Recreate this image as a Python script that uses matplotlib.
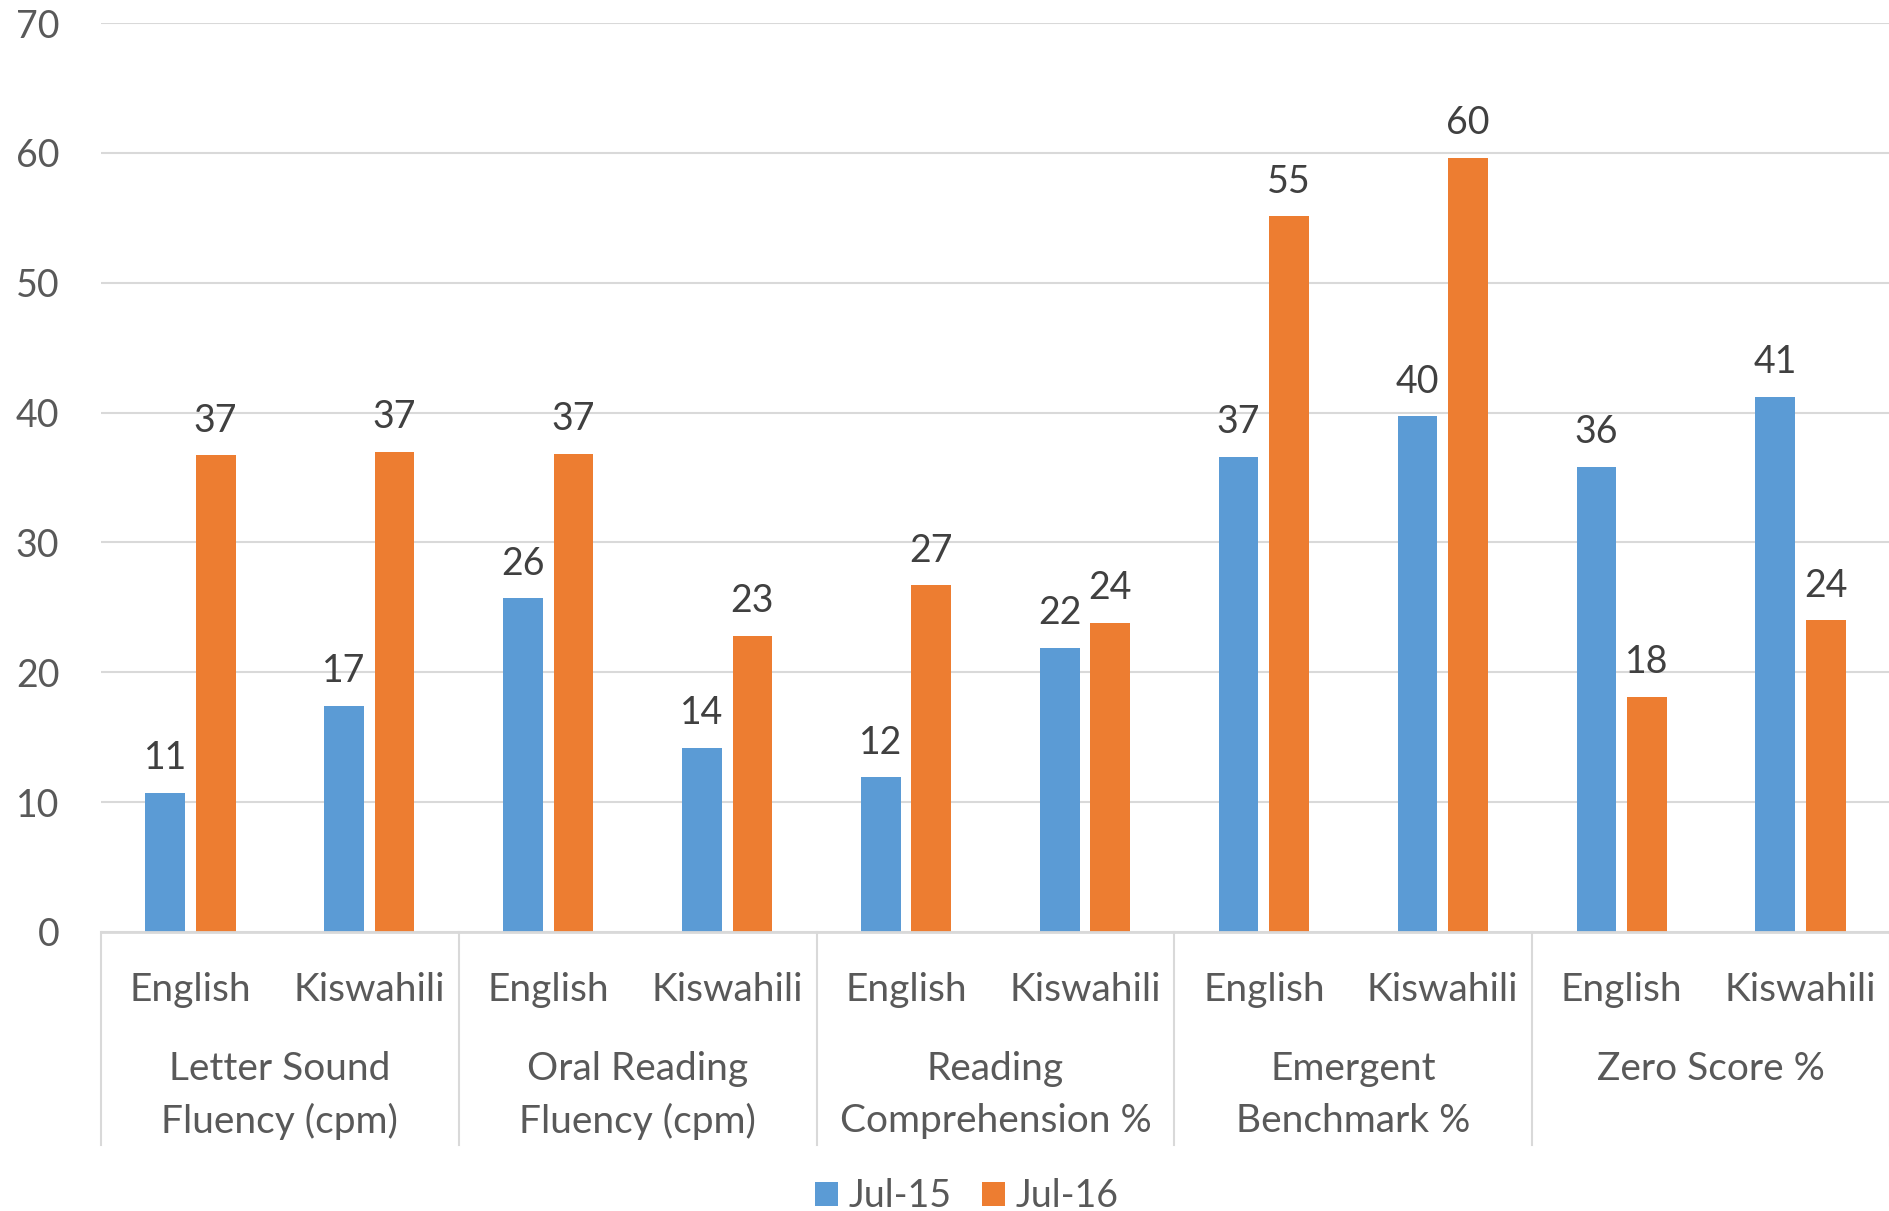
import matplotlib
matplotlib.use("Agg")
import matplotlib.pyplot as plt
import numpy as np
from matplotlib.lines import Line2D

plt.rcParams['font.family'] = ['Lato', 'DejaVu Sans']

groups = ["Letter Sound\nFluency (cpm)", "Oral Reading\nFluency (cpm)",
          "Reading\nComprehension %", "Emergent\nBenchmark %", "Zero Score %"]
languages = ["English", "Kiswahili"]
series_names = ["Jul-15", "Jul-16"]
jul15 = [10.7, 17.4, 25.7, 14.2, 11.9, 21.9, 36.6, 39.7, 35.8, 41.2]
jul16 = [36.7, 37.0, 36.8, 22.8, 26.7, 23.8, 55.1, 59.6, 18.1, 24.0]
yticks = [0, 10, 20, 30, 40, 50, 60, 70]

colors = ["#5B9BD5", "#ED7D31"]
text_col = "#595959"
label_col = "#404040"
grid_col = "#D9D9D9"

W, H = 1890, 1211
fig = plt.figure(figsize=(W / 100, H / 100), dpi=100)
ax = fig.add_axes([101 / W, 1 - 932 / H, 1 - 101 / W, (932 - 23) / H])

n = len(jul15)
x = np.arange(n)
bw = 0.222
off = 0.141
b1 = ax.bar(x - off, jul15, bw, color=colors[0], label=series_names[0], zorder=3)
b2 = ax.bar(x + off, jul16, bw, color=colors[1], label=series_names[1], zorder=3)

for bars, vals in ((b1, jul15), (b2, jul16)):
    for rect, v in zip(bars, vals):
        ax.annotate(f"{v:.0f}", (rect.get_x() + rect.get_width() / 2, v),
                    xytext=(0, 25), textcoords="offset points",
                    ha="center", va="center", fontsize=27, color=label_col)

ax.set_xlim(-0.5, n - 0.5)
ax.set_ylim(0, 70)
ax.set_yticks(yticks)
ax.set_yticklabels([str(t) for t in yticks])
ax.tick_params(axis="y", length=0, pad=30, labelsize=27, labelcolor=text_col)
ax.set_xticks([])
ax.yaxis.grid(True, color=grid_col, linewidth=1.5, zorder=0)
for s in ["left", "right", "top"]:
    ax.spines[s].set_visible(False)
ax.spines["bottom"].set_color(grid_col)
ax.spines["bottom"].set_linewidth(2)
ax.spines["bottom"].set_zorder(4)

trans = ax.get_xaxis_transform()
# category boundaries
for b in np.arange(-0.5, n, 2):
    ax.add_line(Line2D([b, b], [0, -0.234], transform=trans, color=grid_col,
                       linewidth=1.5, clip_on=False))
# sub labels
for i in range(n):
    ax.text(x[i], -0.0635, languages[i % 2], transform=trans, ha="center",
            va="center", fontsize=28, color=text_col)
# group labels
for g, name in enumerate(groups):
    cx = 2 * g + 0.5
    lines = name.split("\n")
    ys = [-0.151, -0.208]
    for ln, yy in zip(lines, ys):
        ax.text(cx, yy, ln, transform=trans, ha="center", va="center",
                fontsize=28, color=text_col)

leg = fig.legend(handles=[b1, b2], labels=series_names, loc="center",
                 bbox_to_anchor=(967 / W, 1 - 1196 / H), ncol=2, frameon=False,
                 fontsize=27, handlelength=0.6, handleheight=0.6,
                 columnspacing=0.8, handletextpad=0.3)
for t in leg.get_texts():
    t.set_color(text_col)

fig.savefig("out.png", dpi=100, facecolor="white")
